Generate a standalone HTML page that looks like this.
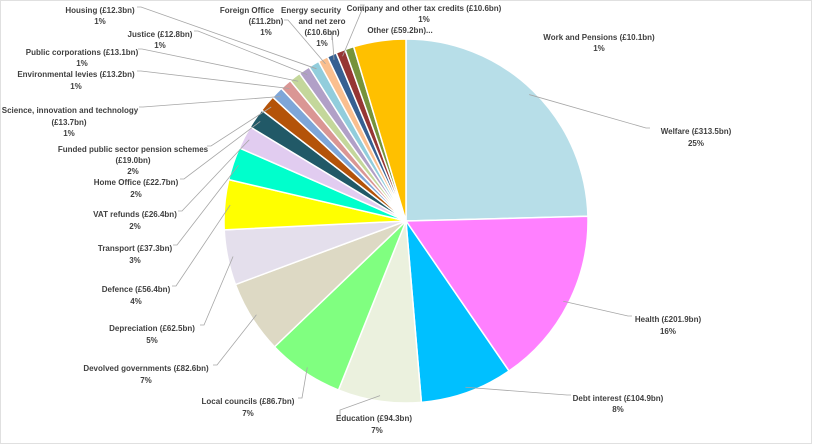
<!DOCTYPE html>
<html><head><meta charset="utf-8"><style>
html,body{margin:0;padding:0;background:#fff;}
svg{display:block;}
text{font-family:"Liberation Sans",sans-serif;font-weight:bold;font-size:8px;fill:#404040;}
</style></head><body>
<svg id="s" width="814" height="445" viewBox="0 0 814 445">
<rect x="0.5" y="0.5" width="811" height="443" fill="#fff" stroke="#e0e0e0"/>
<g id="slices"></g>
<g id="lines" stroke="#a6a6a6" stroke-width="0.8" fill="none"></g>
<g text-anchor="middle">
<text x="599" y="40">Work and Pensions (£10.1bn)</text><text x="599" y="51">1%</text>
<text x="696" y="134">Welfare (£313.5bn)</text><text x="696" y="146">25%</text>
<text x="668" y="322">Health (£201.9bn)</text><text x="668" y="334">16%</text>
<text x="618" y="401">Debt interest (£104.9bn)</text><text x="618" y="412">8%</text>
<text x="374" y="421">Education (£94.3bn)</text><text x="377" y="433">7%</text>
<text x="248" y="404">Local councils (£86.7bn)</text><text x="248" y="416">7%</text>
<text x="146" y="371">Devolved governments (£82.6bn)</text><text x="146" y="383">7%</text>
<text x="152" y="331">Depreciation (£62.5bn)</text><text x="152" y="343">5%</text>
<text x="136" y="292">Defence (£56.4bn)</text><text x="136" y="304">4%</text>
<text x="135" y="251">Transport (£37.3bn)</text><text x="135" y="263">3%</text>
<text x="135" y="217">VAT refunds (£26.4bn)</text><text x="135" y="229">2%</text>
<text x="136" y="185">Home Office (£22.7bn)</text><text x="136" y="197">2%</text>
<text x="133" y="152">Funded public sector pension schemes</text><text x="133" y="163">(£19.0bn)</text><text x="133" y="174">2%</text>
<text x="70" y="113">Science, innovation and technology</text><text x="69" y="125">(£13.7bn)</text><text x="69" y="136">1%</text>
<text x="76" y="77">Environmental levies (£13.2bn)</text><text x="76" y="89">1%</text>
<text x="82" y="55">Public corporations (£13.1bn)</text><text x="82" y="66">1%</text>
<text x="160" y="37">Justice (£12.8bn)</text><text x="160" y="48">1%</text>
<text x="100" y="13">Housing (£12.3bn)</text><text x="100" y="24">1%</text>
<text x="247" y="13">Foreign Office</text><text x="266" y="24">(£11.2bn)</text><text x="266" y="35">1%</text>
<text x="311" y="13">Energy security</text><text x="322" y="24">and net zero</text><text x="322" y="35">(£10.6bn)</text><text x="322" y="46">1%</text>
<text x="424" y="11">Company and other tax credits (£10.6bn)</text><text x="424" y="22">1%</text>
<text x="400" y="33">Other (£59.2bn)...</text>
</g>
</svg>
<script>
var cx=406,cy=221,r=182;
var d=[
[313.5,"#B7DEE8",[650,131]],[201.9,"#FF80FF",[632,319]],[104.9,"#00C0FF",[571,398]],[94.3,"#EBF1DE",[340,418,1]],
[86.7,"#80FF80",[298,401]],[82.6,"#DDD9C4",[213,368]],[62.5,"#E4DFEC",[200,328]],[56.4,"#FFFF00",[172,289]],
[37.3,"#00FFCC",[173,248]],[26.4,"#E1CCF0",[178,214]],[22.7,"#215967",[180,182]],[19.0,"#B45309",[207,149]],
[13.7,"#7EA6D8",[139,110]],[13.2,"#DA9694",[137,74]],[13.1,"#C4D79B",[138,52]],[12.8,"#B1A0C7",[194,34]],
[12.3,"#92CDDC",[137,10]],[11.2,"#FABF8F",[284,23]],[10.6,"#366092",[332,40,1]],[10.6,"#963634",[360,8]],
[10.1,"#76933C",null],[59.2,"#FFC000",null]];
var tot=0;d.forEach(function(x){tot+=x[0];});
var ns="http://www.w3.org/2000/svg",a=0,S=document.getElementById("slices"),L=document.getElementById("lines");
function pt(ang,rr){var t=ang*Math.PI/180;return [cx+rr*Math.sin(t),cy-rr*Math.cos(t)];}
d.forEach(function(x){
 var b=a+x[0]/tot*360,p1=pt(a,r),p2=pt(b,r);
 var p=document.createElementNS(ns,"path");
 p.setAttribute("d","M"+cx+","+cy+"L"+p1[0]+","+p1[1]+"A"+r+","+r+" 0 "+((b-a)>180?1:0)+" 1 "+p2[0]+","+p2[1]+"Z");
 p.setAttribute("fill",x[1]);p.setAttribute("stroke","#fff");p.setAttribute("stroke-width","1.5");
 S.appendChild(p);
 if(x[2]){var m=pt((a+b)/2,r*0.97),q=x[2];
  var l=document.createElementNS(ns,"polyline");
  var h=q[0]>cx?q[0]-4:q[0]+4;
  if(q[2]){l.setAttribute("points",q[0]+","+q[1]+" "+q[0]+","+(q[1]-8)+" "+m[0]+","+m[1]);}
  else l.setAttribute("points",q[0]+","+(q[1]-3)+" "+h+","+(q[1]-3)+" "+m[0]+","+m[1]);
  L.appendChild(l);}
 a=b;});
</script>
</body></html>
